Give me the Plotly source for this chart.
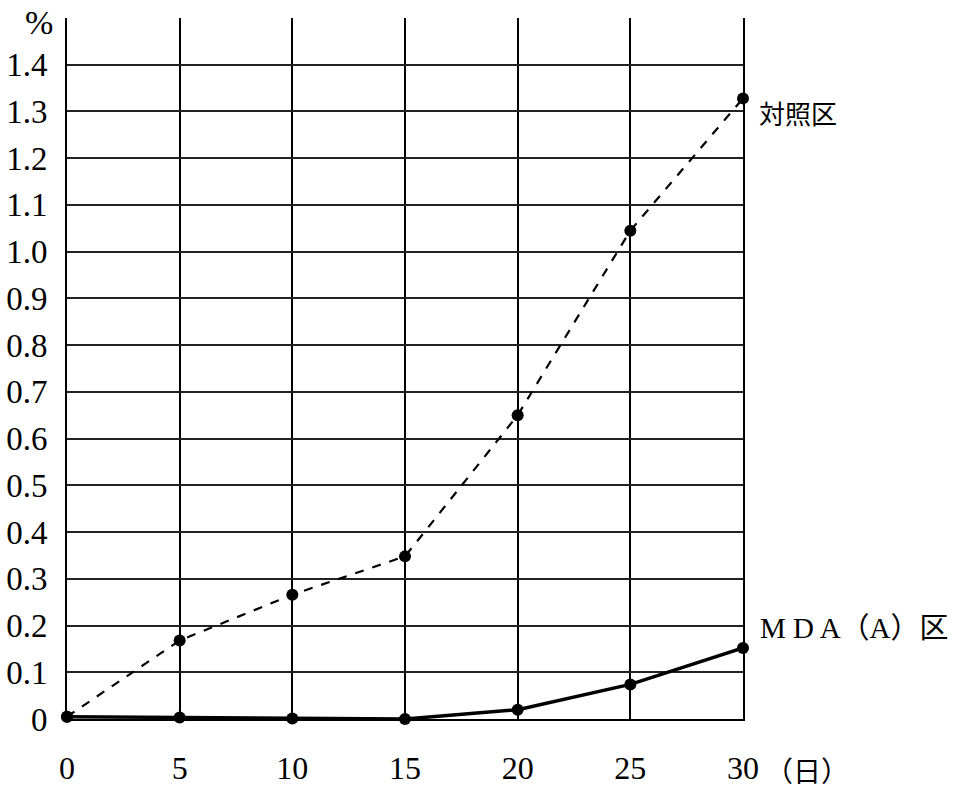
import plotly.graph_objects as go

days = [0, 5, 10, 15, 20, 25, 30]
control = [0.005, 0.168, 0.266, 0.348, 0.65, 1.045, 1.328]
mda = [0.005, 0.003, 0.001, 0.0, 0.02, 0.074, 0.152]
ytick_vals = [0, 0.1, 0.2, 0.3, 0.4, 0.5, 0.6, 0.7, 0.8, 0.9, 1.0, 1.1, 1.2, 1.3, 1.4]
ytick_text = ["0", "0.1", "0.2", "0.3", "0.4", "0.5", "0.6", "0.7", "0.8", "0.9", "1.0", "1.1", "1.2", "1.3", "1.4"]
xtick_text = ["0", "5", "10", "15", "20", "25", "30"]

serif = "Liberation Serif, Times New Roman, serif"
cjk = "Noto Sans CJK JP, sans-serif"

fig = go.Figure()
fig.add_trace(go.Scatter(x=days, y=control, mode="lines+markers",
                         line=dict(color="black", width=2.2, dash="dash"),
                         marker=dict(color="black", size=12), cliponaxis=False,
                         showlegend=False))
fig.add_trace(go.Scatter(x=days, y=mda, mode="lines+markers",
                         line=dict(color="black", width=3.5),
                         marker=dict(color="black", size=12), cliponaxis=False,
                         showlegend=False))

fig.add_annotation(x=30, y=control[-1], xref="x", yref="y", text="対照区",
                   showarrow=False, xanchor="left", yanchor="middle",
                   xshift=14, yshift=-14, font=dict(family=cjk, size=26, color="black"))
fig.add_annotation(x=30, y=mda[-1], xref="x", yref="y", text="M D A（A）区",
                   showarrow=False, xanchor="left", yanchor="middle",
                   xshift=15, yshift=20, font=dict(family=serif + ", " + cjk, size=29, color="black"))
fig.add_annotation(x=30, y=0, xref="x", yref="paper", text="（日）",
                   showarrow=False, xanchor="left", yanchor="middle",
                   xshift=20, yshift=-53, font=dict(family=serif + ", " + cjk, size=28, color="black"))
fig.add_annotation(x=0, y=1.5, xref="paper", yref="y", text="%",
                   showarrow=False, xanchor="right", yanchor="middle",
                   xshift=-12, yshift=-4, font=dict(family=serif, size=34, color="black"))

fig.update_layout(
    width=957, height=788,
    margin=dict(l=67, r=214, t=18, b=69),
    paper_bgcolor="white", plot_bgcolor="white",
    xaxis=dict(range=[0, 30], tickvals=days, ticktext=xtick_text, automargin=False,
               showgrid=True, gridcolor="black", gridwidth=1.5,
               zeroline=False, showline=True, linecolor="black", linewidth=2,
               ticks="", ticklabelstandoff=20,
               tickfont=dict(family=serif, size=32, color="black")),
    yaxis=dict(range=[0, 1.5], tickvals=ytick_vals, ticktext=ytick_text, automargin=False,
               showgrid=True, gridcolor="#222", gridwidth=1.5,
               zeroline=False, showline=True, mirror=True, linecolor="black", linewidth=2,
               ticks="", ticklabelstandoff=11,
               tickfont=dict(family=serif, size=33, color="black")),
)

fig.write_html("out.html", config={"displayModeBar": False},
               post_script="document.body.style.margin='0';document.body.style.overflow='hidden';")
